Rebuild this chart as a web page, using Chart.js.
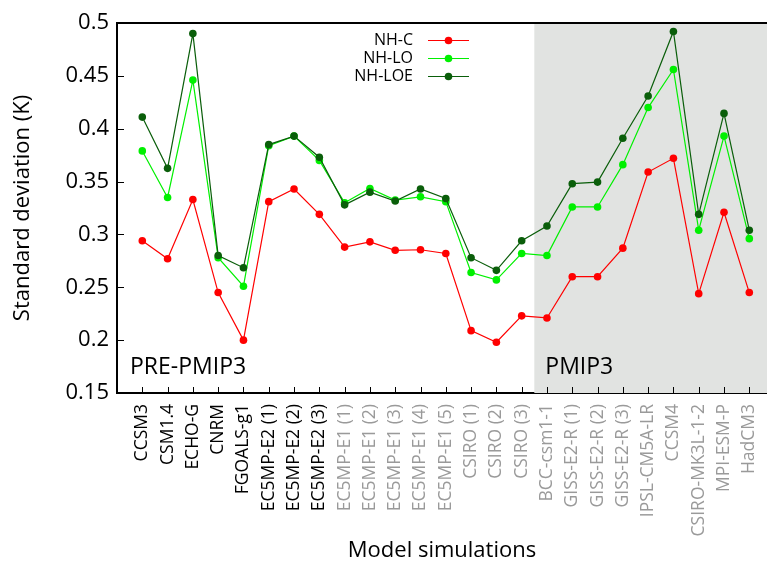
<!DOCTYPE html>
<html>
<head>
<meta charset="utf-8">
<script src="https://cdn.jsdelivr.net/npm/chart.js@4.4.1/dist/chart.umd.min.js"></script>
<style>
  html, body { margin: 0; padding: 0; background: #fff; }
  #wrap { width: 767px; height: 574px; }
</style>
</head>
<body>
<div id="wrap"><canvas id="chart" width="767" height="574"></canvas></div>
<script>
const models = [
  'CCSM3', 'CSM1.4', 'ECHO-G', 'CNRM', 'FGOALS-g1',
  'EC5MP-E2 (1)', 'EC5MP-E2 (2)', 'EC5MP-E2 (3)',
  'EC5MP-E1 (1)', 'EC5MP-E1 (2)', 'EC5MP-E1 (3)', 'EC5MP-E1 (4)', 'EC5MP-E1 (5)',
  'CSIRO (1)', 'CSIRO (2)', 'CSIRO (3)',
  'BCC-csm1-1', 'GISS-E2-R (1)', 'GISS-E2-R (2)', 'GISS-E2-R (3)',
  'IPSL-CM5A-LR', 'CCSM4', 'CSIRO-MK3L-1-2', 'MPI-ESM-P', 'HadCM3'
];
const nhC   = [0.294, 0.277, 0.333, 0.245, 0.200, 0.331, 0.343, 0.319, 0.288, 0.293, 0.285, 0.2855, 0.282,
               0.209, 0.198, 0.223, 0.221, 0.260, 0.260, 0.287, 0.359, 0.372, 0.244, 0.321, 0.245];
const nhLO  = [0.379, 0.335, 0.446, 0.278, 0.251, 0.384, 0.393, 0.370, 0.330, 0.3435, 0.3325, 0.3356, 0.331,
               0.264, 0.257, 0.282, 0.280, 0.326, 0.326, 0.366, 0.420, 0.456, 0.304, 0.393, 0.296];
const nhLOE = [0.411, 0.3625, 0.490, 0.280, 0.2685, 0.385, 0.393, 0.373, 0.328, 0.340, 0.3316, 0.343, 0.334,
               0.278, 0.266, 0.294, 0.308, 0.348, 0.3495, 0.391, 0.431, 0.492, 0.319, 0.4145, 0.304];
const yTicks = [0.15, 0.2, 0.25, 0.3, 0.35, 0.4, 0.45, 0.5];

const blackLabels = 8;   // first eight names printed in black, the rest in grey
const pmip3Start = 16;   // index of BCC-csm1-1, first PMIP3 run
const FONT = "'Open Sans', 'DejaVu Sans', sans-serif";

const toPoints = arr => arr.map((v, i) => ({ x: i + 1, y: v }));

function series(label, values, color, order) {
  return {
    label: label,
    data: toPoints(values),
    borderColor: color,
    backgroundColor: color,
    borderWidth: 1.2,
    pointRadius: 3.8,
    pointHoverRadius: 3.8,
    pointBorderWidth: 0,
    tension: 0,
    order: order
  };
}

// grey panel behind the PMIP3 runs, plus the inward tick marks and frame
const panels = {
  id: 'panels',
  beforeDatasetsDraw(chart) {
    const { ctx, chartArea: a, scales: { x } } = chart;
    const x0 = x.getPixelForValue(pmip3Start + 0.5);
    ctx.save();
    ctx.fillStyle = '#e1e3e1';
    ctx.fillRect(x0, a.top, a.right - x0, a.bottom - a.top);

    ctx.strokeStyle = '#000';
    ctx.lineWidth = 1;
    chart.scales.y.ticks.forEach(t => {
      const py = Math.round(chart.scales.y.getPixelForValue(t.value)) + 0.5;
      ctx.beginPath();
      ctx.moveTo(a.left, py);
      ctx.lineTo(a.left + 7, py);
      ctx.stroke();
    });
    x.ticks.forEach(t => {
      const px = Math.round(x.getPixelForValue(t.value)) + 0.5;
      ctx.beginPath();
      ctx.moveTo(px, a.bottom);
      ctx.lineTo(px, a.bottom - 6);
      ctx.stroke();
    });

    ctx.lineWidth = 2;
    ctx.beginPath();
    ctx.moveTo(a.left, a.top);
    ctx.lineTo(a.right, a.top);
    ctx.stroke();

    ctx.fillStyle = '#000';
    ctx.font = '23px ' + FONT;
    ctx.textBaseline = 'alphabetic';
    ctx.textAlign = 'left';
    ctx.fillText('PRE-PMIP3', a.left + 13, a.bottom - 19);
    ctx.fillText('PMIP3', x0 + 11, a.bottom - 19);
    ctx.restore();
  },
  afterDraw(chart) {
    // legend: name on the left, line sample on the right
    const { ctx } = chart;
    const rows = [chart.data.datasets[0], chart.data.datasets[1], chart.data.datasets[2]];
    ctx.save();
    ctx.font = '16px ' + FONT;
    ctx.textAlign = 'right';
    ctx.textBaseline = 'middle';
    rows.forEach((ds, i) => {
      const cy = 40.5 + i * 18;
      ctx.fillStyle = '#000';
      ctx.fillText(ds.label, 413, cy);
      ctx.strokeStyle = ds.borderColor;
      ctx.lineWidth = 1.2;
      ctx.beginPath();
      ctx.moveTo(428, cy);
      ctx.lineTo(469, cy);
      ctx.stroke();
      ctx.fillStyle = ds.backgroundColor;
      ctx.beginPath();
      ctx.arc(448.5, cy, 3.8, 0, Math.PI * 2);
      ctx.fill();
    });
    ctx.restore();
  }
};

new Chart(document.getElementById('chart'), {
  type: 'line',
  data: {
    datasets: [
      series('NH-C', nhC, '#ff0000', 2),
      series('NH-LO', nhLO, '#00f000', 1),
      series('NH-LOE', nhLOE, '#0a5e0a', 0)
    ]
  },
  options: {
    responsive: false,
    animation: false,
    devicePixelRatio: 1,
    layout: { autoPadding: false, padding: { top: 23, right: 0, bottom: 0, left: 0 } },
    plugins: { legend: { display: false }, tooltip: { enabled: false } },
    scales: {
      x: {
        type: 'linear',
        min: 0,
        max: 25.7,
        afterBuildTicks: scale => { scale.ticks = models.map((m, i) => ({ value: i + 1 })); },
        afterFit: scale => {
          scale.height = 181;
          scale.paddingLeft = 0;
          scale.paddingRight = 0;
        },
        grid: { display: false, drawTicks: false },
        border: { display: true, color: '#000', width: 2 },
        ticks: {
          autoSkip: false,
          maxRotation: 90,
          minRotation: 90,
          padding: 11,
          font: { family: FONT, size: 17.5 },
          color: ctx => (ctx.index < blackLabels ? '#000' : '#9a9a9a'),
          callback: v => models[v - 1]
        },
        title: {
          display: true,
          text: 'Model simulations',
          color: '#000',
          font: { family: FONT, size: 22 },
          padding: { top: 0, bottom: 10 }
        }
      },
      y: {
        min: 0.15,
        max: 0.5,
        afterBuildTicks: scale => { scale.ticks = yTicks.map(v => ({ value: v })); },
        afterFit: scale => { scale.width = 117; },
        grid: { display: false, drawTicks: false },
        border: { display: true, color: '#000', width: 2 },
        ticks: {
          padding: 8,
          color: '#000',
          font: { family: FONT, size: 22 },
          callback: v => String(+v.toFixed(2))
        },
        title: {
          display: true,
          text: 'Standard deviation (K)',
          color: '#000',
          font: { family: FONT, size: 22 },
          padding: { top: 10, bottom: 0 }
        }
      }
    }
  },
  plugins: [panels]
});
</script>
</body>
</html>
